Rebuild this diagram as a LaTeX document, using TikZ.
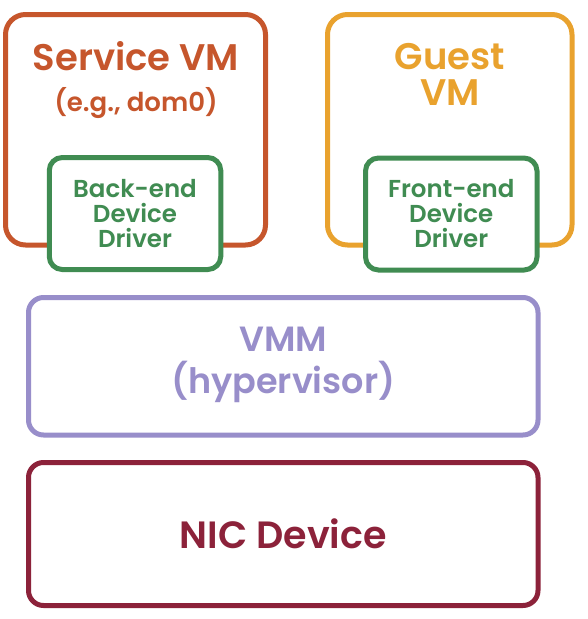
\documentclass[tikz,border=0pt]{standalone}
\usepackage{fontspec}
\setmainfont{Poppins}[BoldFont={Poppins SemiBold}]
\usepackage{tikz}

\definecolor{svccol}{RGB}{198,86,44}
\definecolor{guestcol}{RGB}{233,162,46}
\definecolor{drvcol}{RGB}{64,140,82}
\definecolor{vmmcol}{RGB}{152,142,202}
\definecolor{niccol}{RGB}{140,34,58}

\begin{document}
\begin{tikzpicture}[x=1pt,y=-1pt,
    box/.style = {
        draw,
        line width=5pt,
        fill=white,
        inner sep=0pt,
        rounded corners=#1
    },
    vmbox/.style = {
        box=20pt,
        minimum width=#1,
        minimum height=230.5pt
    },
    drvbox/.style = {
        box=13pt,
        draw=drvcol,
        minimum width=171.5pt,
        minimum height=112pt
    },
    layer/.style = {
        box=15pt,
        minimum width=509.5pt
    },
    title/.style = {
        align=center,
        font=\fontsize{37}{36}\selectfont\bfseries
    },
    drvtext/.style = {
        align=center,
        text=drvcol,
        font=\fontsize{24.5}{25}\selectfont\bfseries
    }
]
    \useasboundingbox (0,0) rectangle (588,619);

    % Virtual machines
    \node[vmbox=260pt, draw=svccol] (svc) at (135.5,129.75) {};
    \node[vmbox=244.5pt, draw=guestcol] (guest) at (449.75,129.75) {};
    \node[title, text=svccol] (svclabel) at (136,80.5)
        {Service VM\\[5pt]{\fontsize{26}{26}\selectfont(e.g., dom0)}};
    \node[title, text=guestcol] (guestlabel) at (450,74) {Guest\\VM};

    % Drivers
    \node[drvbox] (backend) at (135,213.5) {};
    \node[drvbox] (frontend) at (451.25,214) {};
    \node[drvtext] (backlabel) at (backend) {Back-end\\Device\\Driver};
    \node[drvtext] (frontlabel) at (frontend) {Front-end\\Device\\Driver};

    % Hypervisor and hardware
    \node[layer, draw=vmmcol, minimum height=137.5pt] (vmm) at (283.25,366.25) {};
    \node[title, text=vmmcol, font=\fontsize{35}{42}\selectfont\bfseries] (vmmlabel) at (283.25,365) {VMM\\(hypervisor)};
    \node[layer, draw=niccol, minimum height=143pt] (nic) at (283.25,534) {};
    \node[title, text=niccol, font=\fontsize{38}{38}\selectfont\bfseries] (niclabel) at (nic) {NIC Device};
\end{tikzpicture}
\end{document}
